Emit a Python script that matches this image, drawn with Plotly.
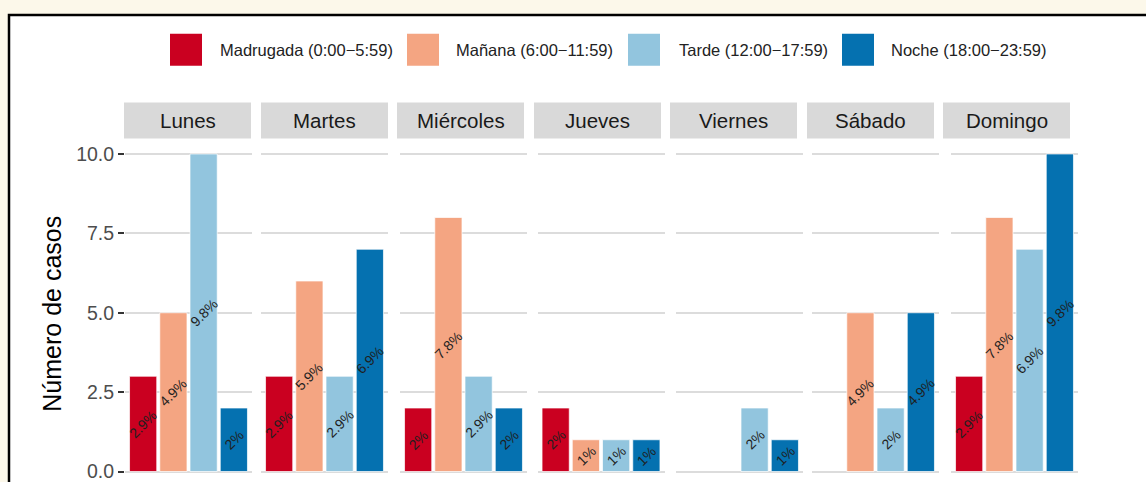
import plotly.graph_objects as go

# ---------------- data ----------------
days = ["Lunes", "Martes", "Miércoles", "Jueves", "Viernes", "Sábado", "Domingo"]
periods = ["Madrugada (0:00−5:59)", "Mañana (6:00−11:59)",
           "Tarde (12:00−17:59)", "Noche (18:00−23:59)"]
period_colors = ["#CA0020", "#F4A582", "#92C5DE", "#0571B0"]

madrugada = [3, 3, 2, 2, None, None, 3]
manana = [5, 6, 8, 1, None, 5, 8]
tarde = [10, 3, 3, 1, 2, 2, 7]
noche = [2, 7, 2, 1, 1, 5, 10]

madrugada_pct = ["2.9%", "2.9%", "2%", "2%", None, None, "2.9%"]
manana_pct = ["4.9%", "5.9%", "7.8%", "1%", None, "4.9%", "7.8%"]
tarde_pct = ["9.8%", "2.9%", "2.9%", "1%", "2%", "2%", "6.9%"]
noche_pct = ["2%", "6.9%", "2%", "1%", "1%", "4.9%", "9.8%"]

y_tickvals = [0, 2.5, 5, 7.5, 10]
y_ticktext = ["0.0", "2.5", "5.0", "7.5", "10.0"]
y_title = "Número de casos"

# ---------------- layout helpers ----------------
W, H = 1146, 482
FONT = "Liberation Sans, Arial, sans-serif"
CREAM = "#FCF8EA"


def px(x):
    return x / W


def py(y):
    return 1 - y / H


panel_left = [125, 261, 400, 537.5, 676, 812, 951]
panel_w = 127
strip_left = [124, 261, 397, 534, 670, 807, 943]
strip_w = 127
strip_top, strip_bot = 103, 139

series = [madrugada, manana, tarde, noche]
series_pct = [madrugada_pct, manana_pct, tarde_pct, noche_pct]

fig = go.Figure()
annotations = []
shapes = []

# outer frame (white box with black border on cream background)
shapes.append(dict(type="rect", xref="paper", yref="paper",
                   x0=px(9), x1=1.2, y0=-0.2, y1=py(15),
                   fillcolor="white", line=dict(color="black", width=2.5),
                   layer="below"))

for i, day in enumerate(days):
    xa = "x" if i == 0 else f"x{i+1}"
    vals = [s[i] for s in series]
    fig.add_trace(go.Bar(
        x=periods, y=vals, xaxis=xa, yaxis="y",
        marker=dict(color=period_colors,
                    line=dict(color="rgba(255,255,255,0.7)", width=1)),
        showlegend=False, hoverinfo="x+y",
    ))
    for p, s, spct in zip(periods, series, series_pct):
        if s[i] is None:
            continue
        annotations.append(dict(
            x=p, y=s[i] / 2, xref=xa, yref="y", text=spct[i],
            textangle=-45, showarrow=False,
            font=dict(family=FONT, size=14, color="#1F1F1F"),
        ))
    # strip
    shapes.append(dict(type="rect", xref="paper", yref="paper",
                       x0=px(strip_left[i]), x1=px(strip_left[i] + strip_w),
                       y0=py(strip_bot), y1=py(strip_top),
                       fillcolor="#D9D9D9", line=dict(width=0), layer="below"))
    annotations.append(dict(
        x=px(strip_left[i] + strip_w / 2), y=py((strip_top + strip_bot) / 2),
        xref="paper", yref="paper", text=day, showarrow=False,
        xanchor="center", yanchor="middle",
        font=dict(family=FONT, size=20.5, color="#1A1A1A"),
    ))

# axes
layout_axes = {}
for i in range(len(days)):
    key = "xaxis" if i == 0 else f"xaxis{i+1}"
    layout_axes[key] = dict(
        domain=[px(panel_left[i]), px(panel_left[i] + panel_w)],
        anchor="y", type="category", categoryorder="array",
        categoryarray=periods, range=[-0.6, 3.6],
        showticklabels=False, showgrid=False, zeroline=False,
        ticks="", showline=False, fixedrange=True,
    )

layout_axes["yaxis"] = dict(
    domain=[0, py(139)], anchor="x", range=[-0.267, 10.49],
    tickvals=y_tickvals, ticktext=y_ticktext,
    showgrid=True, gridcolor="#DCDCDC", gridwidth=1.6,
    zeroline=False, showline=False,
    ticks="outside", ticklen=6, tickwidth=1.5, tickcolor="#333333",
    tickfont=dict(family=FONT, size=19.5, color="#4D4D4D"),
    ticklabeloverflow="allow",
    fixedrange=True,
)

# y title
annotations.append(dict(
    x=px(52), y=py(315), xref="paper", yref="paper", text=y_title,
    textangle=-90, showarrow=False, xanchor="center", yanchor="middle",
    font=dict(family=FONT, size=25, color="#000000"),
))

# manual legend
legend_key_x = [170, 407, 628, 842]
legend_text_x = [218, 454, 677, 889]
for name, col, kx, tx in zip(periods, period_colors, legend_key_x, legend_text_x):
    shapes.append(dict(type="rect", xref="paper", yref="paper",
                       x0=px(kx), x1=px(kx + 32), y0=py(66), y1=py(34),
                       fillcolor=col, line=dict(width=0)))
    annotations.append(dict(
        x=px(tx), y=py(50), xref="paper", yref="paper", text=name,
        showarrow=False, xanchor="left", yanchor="middle",
        font=dict(family=FONT, size=16.5, color="#222222"),
    ))

fig.update_layout(
    width=W, height=H,
    margin=dict(l=0, r=0, t=0, b=0),
    paper_bgcolor=CREAM,
    plot_bgcolor="white",
    bargap=0.1,
    shapes=shapes,
    annotations=annotations,
    showlegend=False,
    font=dict(family=FONT),
    **layout_axes,
)

fig.write_html(
    "out.html",
    config={"displayModeBar": False},
    post_script=(
        "document.body.style.margin='0';"
        "document.body.style.padding='0';"
        "document.body.style.overflow='hidden';"
        f"document.body.style.background='{CREAM}';"
    ),
)
